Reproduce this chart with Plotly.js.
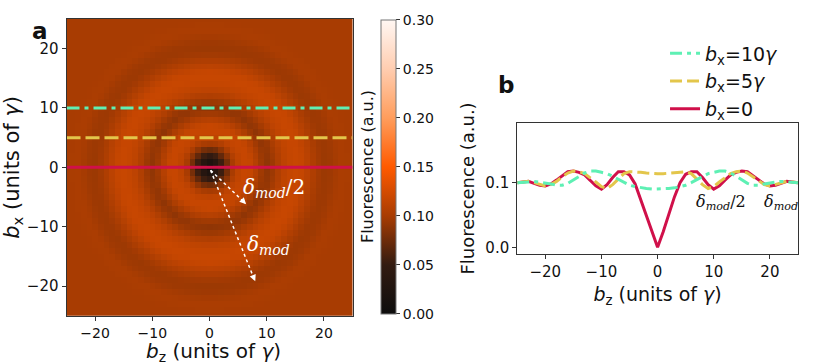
<!DOCTYPE html>
<html>
<head>
<meta charset="utf-8">
<script src="https://cdn.plot.ly/plotly-3.0.1.min.js"></script>
<style>
  html, body { margin: 0; padding: 0; background: #fff; }
  #chart { width: 813px; height: 363px; }
</style>
</head>
<body>
<div id="chart"></div>
<script>
// sample positions in units of gamma (same grid for b_z and b_x)
const bzValues = Array.from({ length: 51 }, (_, i) => i - 25);
const bxValues = bzValues.slice();

const radialProfile = [
  0.000, 0.023, 0.048, 0.075, 0.099, 0.112, 0.117, 0.117, 0.108, 0.097,
  0.090, 0.095, 0.104, 0.112, 0.116, 0.118, 0.117, 0.111, 0.104, 0.098,
  0.095, 0.096, 0.099, 0.102, 0.101, 0.100, 0.100, 0.100, 0.100, 0.100,
  0.100, 0.100, 0.100, 0.100, 0.100, 0.100, 0.100
];

// horizontal cuts through the map (b_x levels) and their profiles along b_z = -25..25
const cutLevels = [0, 5, 10];
const cutNames = ['<i>b</i><sub>x</sub>=0', '<i>b</i><sub>x</sub>=5<i>γ</i>', '<i>b</i><sub>x</sub>=10<i>γ</i>'];
const cutBx0 = [
  0.100, 0.101, 0.102, 0.099, 0.096, 0.095, 0.098, 0.104, 0.111, 0.117,
  0.118, 0.116, 0.112, 0.104, 0.095, 0.090, 0.097, 0.108, 0.117, 0.117,
  0.112, 0.098, 0.073, 0.047, 0.022, 0.000, 0.024, 0.050, 0.078, 0.100,
  0.113, 0.117, 0.117, 0.108, 0.097, 0.090, 0.095, 0.104, 0.112, 0.116,
  0.118, 0.117, 0.111, 0.104, 0.098, 0.095, 0.096, 0.099, 0.102, 0.101,
  0.100
];
const cutBx5 = [
  0.100, 0.101, 0.102, 0.100, 0.097, 0.095, 0.097, 0.102, 0.109, 0.115,
  0.118, 0.117, 0.114, 0.108, 0.101, 0.094, 0.091, 0.097, 0.106, 0.114,
  0.117, 0.117, 0.116, 0.115, 0.114, 0.114, 0.114, 0.115, 0.116, 0.117,
  0.117, 0.114, 0.106, 0.097, 0.091, 0.094, 0.101, 0.108, 0.114, 0.117,
  0.118, 0.115, 0.109, 0.102, 0.097, 0.095, 0.097, 0.100, 0.102, 0.101,
  0.100
];
const cutBx10 = [
  0.100, 0.100, 0.101, 0.102, 0.101, 0.100, 0.098, 0.096, 0.096, 0.099,
  0.104, 0.110, 0.115, 0.118, 0.118, 0.116, 0.114, 0.110, 0.105, 0.100,
  0.096, 0.094, 0.092, 0.091, 0.090, 0.090, 0.090, 0.091, 0.092, 0.094,
  0.096, 0.100, 0.105, 0.110, 0.114, 0.116, 0.118, 0.118, 0.115, 0.110,
  0.104, 0.099, 0.096, 0.096, 0.098, 0.100, 0.101, 0.102, 0.101, 0.100,
  0.100
];
const cutProfiles = [cutBx0, cutBx5, cutBx10];
const colorTicks = [0, 0.05, 0.1, 0.15, 0.2, 0.25, 0.3];

const cutColors = ['#d0104a', '#e3c64b', '#5ef0b4'];
const cutDashMap = ['solid', '14px,5px', '13px,5px,4px,5px'];
const cutDashLine = ['solid', '12px,5px', '12px,5px,4px,5px'];

function profileAt(r) {
  const i = Math.floor(r);
  if (i >= radialProfile.length - 1) return radialProfile[radialProfile.length - 1];
  const t = r - i;
  return radialProfile[i] * (1 - t) + radialProfile[i + 1] * t;
}

const zGrid = bxValues.map(bx => bzValues.map(bz => profileAt(Math.hypot(bx, bz))));

const FONT = 'DejaVu Sans, Liberation Sans, sans-serif';
const SERIF = 'DejaVu Serif, Liberation Serif, serif';

const traces = [{
  type: 'heatmap',
  x: bzValues,
  y: bxValues,
  z: zGrid,
  zmin: 0,
  zmax: 0.3,
  xaxis: 'x',
  yaxis: 'y',
  hoverinfo: 'skip',
  colorscale: [
    [0, '#0d0d0d'], [0.1667, '#321b11'], [0.3333, '#a83c02'],
    [0.5, '#ff5a00'], [0.6667, '#ff9d5c'], [0.8333, '#ffcdb0'], [1, '#fff7f3']
  ],
  colorbar: {
    x: 0.4686, xanchor: 'left', xpad: 0,
    y: 0.135, yanchor: 'bottom', ypad: 0,
    len: 0.81, lenmode: 'fraction',
    thickness: 15, thicknessmode: 'pixels',
    outlinewidth: 1, outlinecolor: '#777',
    tickvals: colorTicks, tickformat: '.2f',
    ticks: 'outside', ticklen: 4, tickcolor: '#333',
    tickfont: { family: FONT, size: 14, color: '#111' }
  }
}];

// cut lines drawn over the map
cutLevels.forEach((lvl, k) => {
  traces.push({
    type: 'scatter', mode: 'lines',
    x: [bzValues[0], bzValues[bzValues.length - 1]],
    y: [lvl, lvl],
    xaxis: 'x', yaxis: 'y',
    showlegend: false, hoverinfo: 'skip',
    line: { color: cutColors[k], width: 3, dash: cutDashMap[k] }
  });
});

// profiles along b_z
cutLevels.forEach((lvl, k) => {
  traces.push({
    type: 'scatter', mode: 'lines',
    x: bzValues, y: cutProfiles[k],
    xaxis: 'x2', yaxis: 'y2',
    name: cutNames[k],
    line: { color: cutColors[k], width: 3, dash: cutDashLine[k] }
  });
});

const axisBase = {
  showgrid: false, zeroline: false,
  showline: true, mirror: true, linecolor: '#333', linewidth: 1,
  ticks: 'outside', ticklen: 4, tickcolor: '#333',
  tickfont: { family: FONT, size: 15, color: '#111' }
};

const layout = {
  width: 813, height: 363,
  margin: { l: 0, r: 0, t: 0, b: 0 },
  paper_bgcolor: '#fff', plot_bgcolor: '#fff',
  font: { family: FONT, color: '#111' },
  showlegend: true,
  legend: {
    x: 0.818, y: 0.905, xanchor: 'left', yanchor: 'top',
    traceorder: 'reversed',
    bgcolor: 'rgba(0,0,0,0)',
    font: { family: FONT, size: 19, color: '#111' },
    itemwidth: 30
  },
  xaxis: Object.assign({}, axisBase, {
    domain: [0.0818, 0.4336], range: [-25, 25], anchor: 'y',
    tickvals: [-20, -10, 0, 10, 20],
    tickfont: { family: FONT, size: 14, color: '#111' }
  }),
  yaxis: Object.assign({}, axisBase, {
    domain: [0.1303, 0.9477], range: [-25, 25], anchor: 'x',
    tickvals: [-20, -10, 0, 10, 20],
    title: { text: '<i>b</i><sub>x</sub> (units of <i>γ</i>)', font: { family: FONT, size: 21 }, standoff: 4 }
  }),
  xaxis2: Object.assign({}, axisBase, {
    domain: [0.6362, 0.9815], range: [-25, 25], anchor: 'y2',
    tickvals: [-20, -10, 0, 10, 20],
    title: { text: '<i>b</i><sub>z</sub> (units of <i>γ</i>)', font: { family: FONT, size: 19 }, standoff: 7 }
  }),
  yaxis2: Object.assign({}, axisBase, {
    domain: [0.3003, 0.6612], range: [-0.0104, 0.1924], anchor: 'x2',
    tickvals: [0, 0.1], tickformat: '.1f',
    title: { text: 'Fluorescence (a.u.)', font: { family: FONT, size: 18 }, standoff: 6 }
  }),
  shapes: [
    { type: 'line', xref: 'x', yref: 'y', x0: 0.2, y0: -0.5, x1: 6.2, y1: -6.0,
      line: { color: '#fff', width: 1.5, dash: 'dot' } },
    { type: 'line', xref: 'x', yref: 'y', x0: 0.2, y0: -0.5, x1: 7.8, y1: -18.8,
      line: { color: '#fff', width: 1.5, dash: 'dot' } }
  ],
  annotations: [
    { text: '<b>a</b>', xref: 'paper', yref: 'paper', x: 0.0369, y: 0.956,
      showarrow: false, font: { family: FONT, size: 23, color: '#111' } },
    { text: '<b>b</b>', xref: 'paper', yref: 'paper', x: 0.6224, y: 0.807,
      showarrow: false, font: { family: FONT, size: 23, color: '#111' } },
    // x title of the map, placed below the tick labels
    { text: '<i>b</i><sub>z</sub> (units of <i>γ</i>)', xref: 'paper', yref: 'paper',
      x: 0.2625, y: 0.03, xanchor: 'center', yanchor: 'middle',
      showarrow: false, font: { family: FONT, size: 20, color: '#111' } },
    { text: 'Fluorescence (a.u.)', xref: 'paper', yref: 'paper', x: 0.4527, y: 0.54,
      textangle: -90, showarrow: false, font: { family: FONT, size: 16, color: '#111' } },
    // arrow heads of the dotted arrows
    { text: '', xref: 'x', yref: 'y', x: 6.4, y: -6.2, ax: -5, ay: -5,
      showarrow: true, arrowhead: 2, arrowsize: 1, arrowwidth: 1.3, arrowcolor: '#fff' },
    { text: '', xref: 'x', yref: 'y', x: 8.0, y: -19.2, ax: -3, ay: -7,
      showarrow: true, arrowhead: 2, arrowsize: 1, arrowwidth: 1.3, arrowcolor: '#fff' },
    { text: '<i>δ</i><sub><i>mod</i></sub>/2', xref: 'x', yref: 'y', x: 11.3, y: -3.4,
      showarrow: false, font: { family: SERIF, size: 20, color: '#fff' } },
    { text: '<i>δ</i><sub><i>mod</i></sub>', xref: 'x', yref: 'y', x: 10.3, y: -13.1,
      showarrow: false, font: { family: SERIF, size: 20, color: '#fff' } },
    { text: '<i>δ</i><sub><i>mod</i></sub>/2', xref: 'x2', yref: 'y2', x: 11.3, y: 0.070,
      showarrow: false, font: { family: SERIF, size: 16, color: '#111' } },
    { text: '<i>δ</i><sub><i>mod</i></sub>', xref: 'x2', yref: 'y2', x: 21.9, y: 0.070,
      showarrow: false, font: { family: SERIF, size: 16, color: '#111' } }
  ]
};

Plotly.newPlot('chart', traces, layout, { staticPlot: true, displayModeBar: false });
</script>
</body>
</html>
